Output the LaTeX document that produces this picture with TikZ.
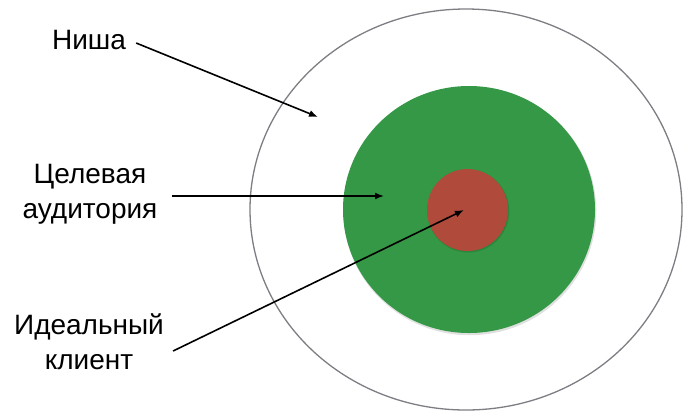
\documentclass[tikz,border=0pt]{standalone}
\usepackage{fontspec}
\setmainfont{Liberation Sans}
\usetikzlibrary{arrows.meta}
\definecolor{ringgray}{RGB}{125,125,132}
\definecolor{targetgreen}{RGB}{52,152,70}
\definecolor{idealred}{RGB}{176,74,58}
\tikzset{
  lbl/.style={align=center, inner sep=0pt, font=\fontsize{28}{35}\selectfont, text=black},
  pointer/.style={line width=1.6pt, draw=black, -{Latex[length=9pt,width=7pt]}},
  shade/.style={fill=black, opacity=0.12}
}
\begin{document}
\begin{tikzpicture}[x=1pt,y=-1pt]
\useasboundingbox (0,0) rectangle (700,416);
% outer ring (niche)
\draw[ringgray, line width=1.3pt] (466,209.5) ellipse [x radius=216, y radius=200.5];
% green target audience
\fill[shade] (469.8,211) ellipse [x radius=126.5, y radius=124.2];
\fill[targetgreen] (469,209.5) ellipse [x radius=126, y radius=123.5];
% red ideal client
\fill[shade] (468.3,211) ellipse [x radius=41, y radius=41.5];
\fill[idealred] (467.5,210) ellipse [x radius=40.5, y radius=41];
% labels
\node[lbl] (niche) at (89,40) {Ниша};
\node[lbl] (aud) at (90,194) {Целевая\\аудитория};
\node[lbl] (ideal) at (89,342) {Идеальный\\клиент};
% arrow ends
\coordinate (e1) at (318,117);
\coordinate (e2) at (384,196);
\coordinate (e3) at (464,210);
\draw[pointer] ([xshift=10pt,yshift=-3pt]niche.east) -- (e1);
\draw[pointer] ([xshift=14pt,yshift=-2pt]aud.east) -- (e2);
\draw[pointer] ([xshift=9pt,yshift=-9pt]ideal.east) -- (e3);
\end{tikzpicture}
\end{document}
